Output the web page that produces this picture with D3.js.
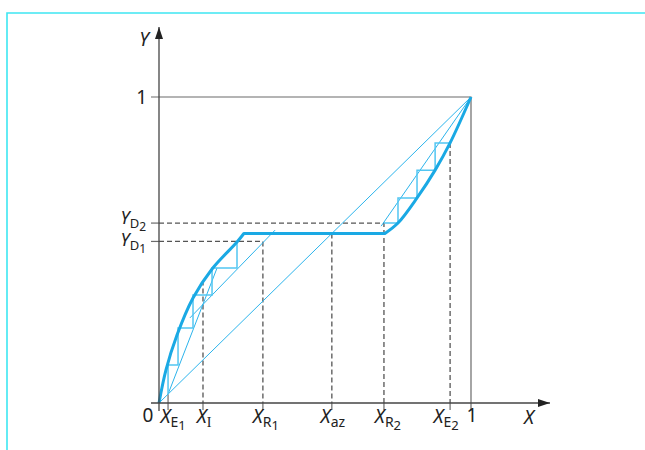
<!DOCTYPE html>
<html>
<head>
<meta charset="utf-8">
<script src="https://cdn.jsdelivr.net/npm/d3@7"></script>
<style>
  body { margin: 0; background: #fff; }
  svg { display: block; }
  text { font-family: "Noto Sans", "Open Sans", sans-serif; fill: #222; }
</style>
</head>
<body>
<div id="chart"></div>
<script>
'use strict';

// marked compositions on the x axis (mole fraction)
var xKeys = ["E", "I", "R", "az", "R", "E"];
var xKeyIdx = ["1", "", "1", "", "2", "2"];
var xValues = [0.029, 0.141, 0.333, 0.554, 0.721, 0.933];

// marked vapour compositions on the y axis
var yKeys = ["D", "D"];
var yKeyIdx = ["2", "1"];
var yValues = [0.588, 0.528];

// equilibrium curve: left branch, plateau, right branch
var eqLeftX = [0, 0.0224, 0.0577, 0.109, 0.170, 0.250, 0.272];
var eqLeftY = [0, 0.108, 0.222, 0.343, 0.438, 0.526, 0.554];
var plateauX = [0.272, 0.724];
var plateauY = [0.554, 0.554];
var eqRightX = [0.724, 0.766, 0.827, 0.885, 0.933, 1];
var eqRightY = [0.554, 0.588, 0.670, 0.761, 0.850, 1];

// operating lines
var opUpperX = [0.099, 0.372];
var opUpperY = [0.278, 0.565];
var opLowerX = [0.029, 0.186];
var opLowerY = [0.029, 0.441];
var opRightX = [0.712, 1];
var opRightY = [0.578, 1];

// stages (staircases)
var stepsLeftX = [0.250, 0.250, 0.170, 0.170, 0.109, 0.109, 0.061, 0.061, 0.029, 0.029];
var stepsLeftY = [0.528, 0.441, 0.441, 0.353, 0.353, 0.245, 0.245, 0.124, 0.124, 0.029];
var stepsRightX = [0.721, 0.766, 0.766, 0.827, 0.827, 0.885, 0.885, 0.933];
var stepsRightY = [0.588, 0.588, 0.670, 0.670, 0.761, 0.761, 0.850, 0.850];

var feedTop = 0.40; // curve height above X_I

var width = 645, height = 450;
var ox = 159, oy = 403;
// horizontal nudges of the x labels against their tick
var xLabelShift = [5, 1, 3, 1, 4, -4];

var svg = d3.select("#chart").append("svg")
    .attr("width", width)
    .attr("height", height);

var x = d3.scaleLinear().domain([0, 1]).range([ox, 471]);
var y = d3.scaleLinear().domain([0, 1]).range([oy, 97]);

var blue = "#1aa9e4", thinBlue = "#2cb4ec", stepBlue = "#52c6f2";
var axisCol = "#444", gridCol = "#6b6b6b", dashCol = "#555";

// frame
svg.append("path")
    .attr("d", "M7,450 L7,13 L645,13")
    .attr("fill", "none")
    .attr("stroke", "#3ee6f2")
    .attr("stroke-width", 1.6);

var pts = function (xs, ys) { return xs.map(function (d, i) { return [x(d), y(ys[i])]; }); };
var line = d3.line();

// y = 1 and x = 1 lines
svg.append("path")
    .attr("d", line([[ox - 8, y(1)], [x(1), y(1)], [x(1), oy + 8]]))
    .attr("fill", "none").attr("stroke", gridCol).attr("stroke-width", 1.2);

// dashed helper lines
var dashed = svg.append("g")
    .attr("fill", "none").attr("stroke", dashCol)
    .attr("stroke-width", 1.3).attr("stroke-dasharray", "5,3");

dashed.append("path").attr("d", line([[ox, y(yValues[1])], [x(xValues[2]), y(yValues[1])], [x(xValues[2]), oy]]));
dashed.append("path").attr("d", line([[ox, y(yValues[0])], [x(xValues[4]), y(yValues[0])], [x(xValues[4]), oy]]));
dashed.append("path").attr("d", line([[x(xValues[3]), y(plateauY[0])], [x(xValues[3]), oy]]));
dashed.append("path").attr("d", line([[x(xValues[1]), y(feedTop)], [x(xValues[1]), oy]]));
dashed.append("path").attr("d", line([[x(xValues[5]), y(stepsRightY[7])], [x(xValues[5]), oy]]));

// ticks
var ticks = svg.append("g").attr("stroke", gridCol).attr("stroke-width", 1.2);
xValues.forEach(function (v, i) {
    ticks.append("line")
        .attr("x1", x(v)).attr("x2", x(v))
        .attr("y1", i === 0 ? y(v) : oy).attr("y2", oy + 7);
});
yValues.forEach(function (v) {
    ticks.append("line")
        .attr("x1", ox - 8).attr("x2", ox)
        .attr("y1", y(v)).attr("y2", y(v));
});

// diagonal and operating lines
var thin = svg.append("g").attr("fill", "none").attr("stroke", thinBlue).attr("stroke-width", 1);
thin.append("path").attr("d", line(pts([0, 1], [0, 1])));
thin.append("path").attr("d", line(pts(opUpperX, opUpperY)));
thin.append("path").attr("d", line(pts(opLowerX, opLowerY)));
thin.append("path").attr("d", line(pts(opRightX, opRightY)));

// stages
var steps = svg.append("g").attr("fill", "none").attr("stroke", stepBlue).attr("stroke-width", 1.5);
steps.append("path").attr("d", line(pts(stepsLeftX, stepsLeftY)));
steps.append("path").attr("d", line(pts(stepsRightX, stepsRightY)));

// equilibrium curve
var smooth = d3.line().curve(d3.curveCatmullRom.alpha(0.5));
var eqPath = smooth(pts(eqLeftX, eqLeftY)) +
    line(pts(plateauX, plateauY)).replace("M", "L") +
    smooth(pts(eqRightX, eqRightY)).replace(/^M[^C]*/, "");
svg.append("path")
    .attr("d", eqPath)
    .attr("fill", "none")
    .attr("stroke", blue)
    .attr("stroke-width", 3)
    .attr("stroke-linejoin", "round");

// axes with arrows
svg.append("defs").append("marker")
    .attr("id", "arrow")
    .attr("viewBox", "0 0 12 8")
    .attr("refX", 12).attr("refY", 4)
    .attr("markerWidth", 12).attr("markerHeight", 8)
    .attr("markerUnits", "userSpaceOnUse")
    .attr("orient", "auto")
    .append("path")
    .attr("d", "M0,0 L12,4 L0,8 Z")
    .attr("fill", "#222");

svg.append("line")
    .attr("x1", ox - 8).attr("y1", oy).attr("x2", 550).attr("y2", oy)
    .attr("stroke", axisCol).attr("stroke-width", 1.3)
    .attr("marker-end", "url(#arrow)");
svg.append("line")
    .attr("x1", ox).attr("y1", oy + 8).attr("x2", ox).attr("y2", 27)
    .attr("stroke", axisCol).attr("stroke-width", 1.3)
    .attr("marker-end", "url(#arrow)");

// labels
var drawLabel = function (px, py, anchor, main, sub, subsub, size) {
    var t = svg.append("text")
        .attr("x", px).attr("y", py)
        .attr("text-anchor", anchor)
        .style("font-size", size + "px");
    t.append("tspan").style("font-style", "italic").text(main);
    if (sub) {
        t.append("tspan")
            .attr("dy", 4)
            .style("font-size", (size - 5) + "px")
            .style("font-family", sub === "I" ? "Liberation Serif, serif" : null)
            .text(sub);
    }
    if (subsub) {
        t.append("tspan")
            .attr("dy", 3)
            .style("font-size", (size - 6) + "px")
            .text(subsub);
    }
    return t;
};

xValues.forEach(function (v, i) {
    drawLabel(x(v) + xLabelShift[i], 423, "middle", "X", xKeys[i], xKeyIdx[i], 19);
});
yValues.forEach(function (v, i) {
    drawLabel(146, y(v) + (i === 0 ? 1 : 5), "end", "Y", yKeys[i], yKeyIdx[i], 18);
});

svg.append("text").attr("x", 148).attr("y", 422).attr("text-anchor", "middle")
    .style("font-size", "19px").text("0");
svg.append("text").attr("x", 472).attr("y", 422).attr("text-anchor", "middle")
    .style("font-size", "19px").text("1");
svg.append("text").attr("x", 147).attr("y", 104).attr("text-anchor", "end")
    .style("font-size", "19px").text("1");
svg.append("text").attr("x", 529).attr("y", 424).attr("text-anchor", "middle")
    .style("font-size", "19px").style("font-style", "italic").text("X");
svg.append("text").attr("x", 144).attr("y", 46).attr("text-anchor", "middle")
    .style("font-size", "19px").style("font-style", "italic").text("Y");
</script>
</body>
</html>
